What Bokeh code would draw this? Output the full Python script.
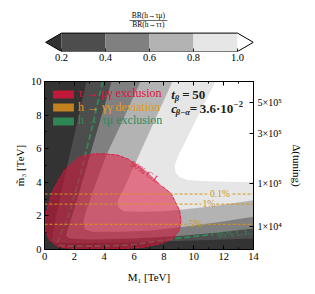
from bokeh.plotting import figure
from bokeh.models import (Range1d, LinearAxis, FixedTicker, Legend, LegendItem,
                          PrintfTickFormatter)
from bokeh.layouts import column
from bokeh.embed import file_html
from bokeh.resources import INLINE
from bokeh.core.properties import value

SERIF = "Liberation Serif"

# ---------------- data ----------------
# colour bar of BR(h->tau mu)/BR(h->tau tau)
cbar_levels = [0.2, 0.4, 0.6, 0.8, 1.0]
cbar_colors = ["#4d4d4d", "#808080", "#b3b3b3", "#e6e6e6"]
under_color = "#333333"
over_color = "#ffffff"

# contour boundaries of the ratio (from top edge down to right edge)
b10_x = [11.45, 10.6, 9.75, 8.95, 8.72, 8.78, 9.05, 9.6, 10.6, 12.0, 14.0]
b10_y = [10.0, 8.5, 7.0, 5.55, 5.0, 4.6, 4.3, 4.13, 4.07, 4.04, 4.02]
b08_x = [8.57, 7.8, 6.27, 5.25, 4.9, 4.95, 5.3, 6.5, 8.0, 9.1, 11.0, 14.0]
b08_y = [10.0, 8.5, 5.5, 3.5, 2.9, 2.5, 2.28, 2.24, 2.28, 2.36, 2.55, 2.93]
b06_x = [6.43, 5.3, 4.13, 3.3, 2.75, 2.6, 2.7, 3.2, 5.0, 7.0, 9.1, 11.5, 14.0]
b06_y = [10.0, 7.8, 5.6, 3.6, 2.2, 1.6, 1.2, 1.05, 1.05, 1.12, 1.33, 1.6, 1.95]
b04_x = [4.49, 3.01, 2.2, 1.5, 1.45, 1.7, 3.0, 6.0, 9.0, 11.5, 14.0]
b04_y = [10.0, 5.51, 3.0, 1.0, 0.8, 0.65, 0.6, 0.65, 0.8, 1.0, 1.25]
b02_x = [2.81, 1.56, 0.9, 0.55, 0.5, 0.7, 2.0, 5.0, 9.0, 14.0]
b02_y = [10.0, 5.12, 2.5, 1.0, 0.55, 0.42, 0.38, 0.40, 0.50, 0.65]

# tau -> mu gamma 90% C.L. exclusion region
pink_x = [7.9, 8.48, 9.04, 9.15, 9.04, 8.59, 7.81, 6.47, 4.46, 2.23, 0.89, 0.33,
          0.08, 0.02, 0.02, 0.11, 0.22, 0.56, 1.34, 2.34, 3.2, 3.9, 4.9, 5.75, 6.9]
pink_y = [3.75, 3.33, 2.34, 1.75, 1.15, 0.65, 0.35, 0.12, 0.02, 0.02, 0.16, 0.56,
          1.1, 1.4, 1.9, 2.1, 2.54, 3.53, 4.72, 5.51, 5.68, 5.7, 5.62, 5.33, 4.62]

# h -> tau mu 95% C.L. exclusion contour
green_x = [3.9, 3.25, 2.45, 1.6, 1.0, 0.85, 0.95, 1.5, 3.0, 5.6, 7.0, 8.5, 11.3]
green_y = [10.0, 7.5, 4.6, 2.0, 0.75, 0.4, 0.25, 0.2, 0.2, 0.26, 0.42, 0.62, 0.9]

# h -> gamma gamma deviation lines
hgg_y = [3.3, 2.7, 1.5]
hgg_labels = ["0.1%", "1%", "5%"]

# axes
M1_ticks = [0, 2, 4, 6, 8, 10, 12, 14]
M1_minor = [1, 3, 5, 7, 9, 11, 13]
m3_ticks = [0, 2, 4, 6, 8, 10]
m3_minor = [1, 3, 5, 7, 9]
tuning_pos = [1.35, 3.93, 6.9, 8.73]
tuning_labels = ["1×10⁴", "1×10⁵", "3×10⁵", "5×10⁵"]

# ---------------- colour bar figure ----------------
cb = figure(width=315, height=72, x_range=Range1d(0.1227, 1.0727),
            y_range=Range1d(0, 51 / 18.4),
            min_border_left=44, min_border_right=62, min_border_top=0, min_border_bottom=21,
            toolbar_location=None, output_backend="svg", y_axis_location=None)
cb.grid.visible = False
cb.outline_line_color = None
cb.background_fill_color = "white"
cb.border_fill_color = "white"

ext = 0.072
lo, hi = cbar_levels[0], cbar_levels[-1]
cb.quad(left=cbar_levels[:-1], right=cbar_levels[1:], bottom=0, top=1,
        fill_color=cbar_colors, line_color=None)
cb.patch([lo, lo - ext, lo], [0, 0.5, 1], fill_color=under_color, line_color=None)
cb.patch([hi, hi + ext, hi], [0, 0.5, 1], fill_color=over_color, line_color=None)
cb.line([lo, hi, hi + ext, hi, lo, lo - ext, lo], [1, 1, 0.5, 0, 0, 0.5, 1],
        line_color="black", line_width=1)
cb.xaxis.ticker = FixedTicker(ticks=cbar_levels, minor_ticks=[])
cb.xaxis.formatter = PrintfTickFormatter(format="%.1f")
cb.xaxis.axis_line_color = None
cb.xaxis.major_tick_in = 3
cb.xaxis.major_tick_out = 0
cb.xaxis.major_tick_line_color = "#222222"
cb.xaxis.major_label_standoff = 2
cb.xaxis.major_label_text_font = SERIF
cb.xaxis.major_label_text_font_size = "10.5px"
cb.xaxis.major_label_text_color = "black"
cmid = 0.595
cb.text(x=[cmid], y=[1.93], text=["BR(h→τμ)"], text_align="center",
        text_baseline="middle", text_font=value(SERIF), text_font_size="7.5px",
        text_color="black")
cb.text(x=[cmid], y=[1.45], text=["BR(h→ττ)"], text_align="center",
        text_baseline="middle", text_font=value(SERIF), text_font_size="7.5px",
        text_color="black")
cb.line([cmid - 0.086, cmid + 0.086], [1.685, 1.685], line_color="black", line_width=0.6)

# ---------------- main figure ----------------
p = figure(width=315, height=222, x_range=Range1d(0, 14), y_range=Range1d(0, 10),
           min_border_left=44, min_border_right=62, min_border_top=9, min_border_bottom=45,
           toolbar_location=None, output_backend="svg")
p.grid.visible = False
p.outline_line_color = "black"
p.background_fill_color = over_color
p.border_fill_color = "white"

xmax, ymax = 14, 10
for bx, by, col in [(b10_x, b10_y, cbar_colors[3]), (b08_x, b08_y, cbar_colors[2]),
                    (b06_x, b06_y, cbar_colors[1]), (b04_x, b04_y, cbar_colors[0]),
                    (b02_x, b02_y, under_color)]:
    p.patch([0] + bx + [xmax, 0], [ymax] + by + [0, 0], fill_color=col, line_color=None)

GREEN = "#2e8b57"
CRIMSON = "#dc143c"
ORANGE = "#d9961a"

p.line(green_x, green_y, line_color=GREEN, line_width=1.8, line_dash="6 3")
p.text(x=[12.75], y=[0.98], text=["95% C.L."], angle=0.12, text_align="center",
       text_baseline="middle", text_color=GREEN, text_font=value(SERIF),
       text_font_size="9px")

p.patch(pink_x, pink_y, fill_color=CRIMSON, fill_alpha=0.55, line_color=None)
p.line(pink_x[:-1], pink_y[:-1], line_color=CRIMSON, line_width=0.9, line_dash="4 1")
p.text(x=[6.8], y=[4.6], text=["90% C.L."], angle=-0.58, text_align="center",
       text_baseline="middle", text_color=CRIMSON, text_font=value(SERIF),
       text_font_size="9px")

lab_x = [11.75, 11.0, 10.1]
half_w = [0.85, 0.5, 0.5]
seg_x, seg_y = [], []
for yy, lx, hw in zip(hgg_y, lab_x, half_w):
    seg_x += [[0, lx - hw], [lx + hw, xmax]]
    seg_y += [[yy, yy], [yy, yy]]
p.multi_line(seg_x, seg_y, line_color=ORANGE, line_width=1, line_dash=value("3 2"))
p.text(x=lab_x, y=hgg_y, text=hgg_labels, text_align="center", text_baseline="middle",
       text_color="#c8961e", text_font=value(SERIF), text_font_size="9.5px")

# annotations
ann = dict(text_font=value(SERIF), text_color="#222222", text_baseline="middle")
big, small = "13px", "8.5px"
p.text(x=[8.49], y=[9.2], text=["t"], text_font_size=big, text_font_style="bold italic", **ann)
p.text(x=[8.73], y=[9.0], text=["β"], text_font_size=small, text_font_style="bold italic", **ann)
p.text(x=[9.22], y=[9.2], text=["="], text_font_size=big, text_font_style="bold", **ann)
p.text(x=[9.9], y=[9.2], text=["50"], text_font_size=big, text_font_style="bold", **ann)
p.text(x=[8.49], y=[8.38], text=["c"], text_font_size=big, text_font_style="bold italic", **ann)
p.text(x=[8.79], y=[8.2], text=["β−α"], text_font_size=small, text_font_style="bold italic", **ann)
p.text(x=[9.73], y=[8.38], text=["="], text_font_size=big, text_font_style="bold", **ann)
p.text(x=[10.4], y=[8.38], text=["3.6·10"], text_font_size=big, text_font_style="bold", **ann)
p.text(x=[12.68], y=[8.68], text=["−2"], text_font_size=small, text_font_style="bold", **ann)

# legend (patches drawn only inside the legend)
def add_legend(fill, alpha, label, color, bottom):
    r = p.quad(left=[-3], right=[-2], top=[-2], bottom=[-3], fill_color=fill,
               fill_alpha=alpha, line_color=None)
    lg = Legend(items=[LegendItem(label=value(label), renderers=[r], index=0)],
                location=(6, bottom),
                background_fill_alpha=0, border_line_color=None, padding=0, margin=0,
                spacing=0, glyph_width=26, glyph_height=10, label_height=10,
                label_standoff=2, label_text_font=SERIF, label_text_font_size="12px",
                label_text_color=color)
    p.add_layout(lg)

add_legend(CRIMSON, 0.85, "τ → μγ exclusion", CRIMSON, 148)
add_legend("#d08a1a", 0.9, "h → γγ deviation", "#e69a1a", 134.5)
add_legend(GREEN, 0.95, "h → τμ exclusion", GREEN, 121)

# axes
for ax in (p.xaxis[0], p.yaxis[0]):
    ax.major_tick_in = 4
    ax.major_tick_out = 0
    ax.minor_tick_in = 2
    ax.minor_tick_out = 0
    ax.major_label_text_font = SERIF
    ax.major_label_text_font_size = "10.5px"
    ax.major_label_text_color = "black"
    ax.axis_label_text_font = SERIF
    ax.axis_label_text_font_size = "11px"
    ax.axis_label_text_font_style = "normal"
    ax.axis_label_text_color = "black"
    ax.major_label_standoff = 3
p.xaxis.axis_label_standoff = 8
p.yaxis.axis_label_standoff = 2
p.xaxis.ticker = FixedTicker(ticks=M1_ticks, minor_ticks=M1_minor)
p.yaxis.ticker = FixedTicker(ticks=m3_ticks, minor_ticks=m3_minor)
p.xaxis.axis_label = "M₁ [TeV]"
p.yaxis.axis_label = "m̃₃ [TeV]"

top_ax = LinearAxis(ticker=FixedTicker(ticks=M1_ticks, minor_ticks=M1_minor),
                    major_label_overrides={t: "" for t in M1_ticks}, major_label_standoff=0,
                    major_tick_in=4, major_tick_out=0, minor_tick_in=2, minor_tick_out=0)
p.add_layout(top_ax, "above")

p.extra_y_ranges = {"tuning": Range1d(0, 10)}
r_ax = LinearAxis(y_range_name="tuning",
                  ticker=FixedTicker(ticks=tuning_pos, minor_ticks=[]),
                  major_label_overrides={pos: lab for pos, lab in zip(tuning_pos, tuning_labels)},
                  major_tick_in=4, major_tick_out=0, major_label_standoff=4,
                  major_label_text_font=SERIF, major_label_text_font_size="10px",
                  major_label_text_color="black",
                  axis_label="Δ(tuning)", axis_label_text_font=SERIF,
                  axis_label_text_font_size="11px", axis_label_text_font_style="normal",
                  axis_label_text_color="black", axis_label_standoff=6)
p.add_layout(r_ax, "right")

layout = column(cb, p, spacing=0)
open("out.html", "w").write(file_html(layout, INLINE))
